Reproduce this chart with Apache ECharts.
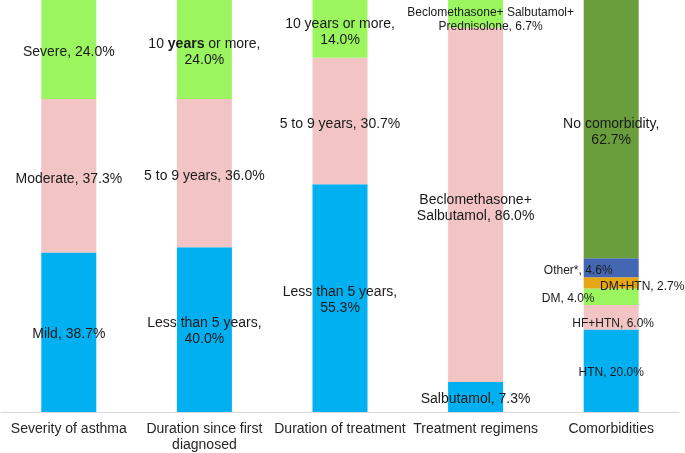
<!DOCTYPE html>
<html>
<head>
<meta charset="utf-8">
<script src="https://cdn.jsdelivr.net/npm/echarts@6/dist/echarts.min.js"></script>
<style>
html,body{margin:0;padding:0;background:#fff;}
#chart{width:685px;height:453px;}
</style>
</head>
<body>
<div id="chart"></div>
<script>
const categories = ['Severity of asthma', 'Duration since first\ndiagnosed', 'Duration of treatment', 'Treatment regimens', 'Comorbidities'];

// segments per category, bottom to top
const severityNames = ['Mild, ', 'Moderate, ', 'Severe, '];
const severityValues = [38.7, 37.3, 24.0];

const diagnosedNames = ['Less than 5 years,\n', '5 to 9 years, ', '10 {b|years} or more,\n'];
const diagnosedValues = [40.0, 36.0, 24.0];

const treatmentNames = ['Less than 5 years,\n', '5 to 9 years, ', '10 years or more,\n'];
const treatmentValues = [55.3, 30.7, 14.0];

const regimenNames = ['Salbutamol, ', 'Beclomethasone+\nSalbutamol, ', 'Beclomethasone+ Salbutamol+\nPrednisolone, '];
const regimenValues = [7.3, 86.0, 6.7];

const comorbidityNames = ['HTN, ', 'HF+HTN, ', 'DM, ', 'DM+HTN, ', 'Other*, ', 'No comorbidity,\n'];
const comorbidityValues = [20.0, 6.0, 4.0, 2.7, 4.6, 62.7];

const C = {blue:'#00B0F0', pink:'#F3C4C4', green:'#9BF55F', dgreen:'#6A9E3C', dblue:'#4467B4', orange:'#E6A514'};
const FONT = 'Liberation Sans, Arial, sans-serif';

const groups = [
  {names: severityNames, values: severityValues, colors: [C.blue, C.pink, C.green], offsets: [[0,2],[0,3],[0,3]], sizes: [14,14,14]},
  {names: diagnosedNames, values: diagnosedValues, colors: [C.blue, C.pink, C.green], offsets: [[0,2],[0,3],[0,3]], sizes: [14,14,14]},
  {names: treatmentNames, values: treatmentValues, colors: [C.blue, C.pink, C.green], offsets: [[0,2],[0,3],[0,3]], sizes: [14,14,14]},
  {names: regimenNames, values: regimenValues, colors: [C.blue, C.pink, C.green], offsets: [[0,2],[0,3],[15,6]], sizes: [14,14,12]},
  {names: comorbidityNames, values: comorbidityValues, colors: [C.blue, C.pink, C.green, C.orange, C.dblue, C.dgreen],
   offsets: [[0,2],[2,6],[-43,2],[31,4],[-33,3],[0,3]], sizes: [12,12,12,12,12,14]}
];

const series = [];
groups.forEach((g, gi) => {
  g.values.forEach((v, si) => {
    const data = categories.map((c, ci) => ci === gi ? v : '-');
    const text = g.names[si] + v.toFixed(1) + '%';
    const fs = g.sizes[si];
    series.push({
      type: 'bar',
      stack: 'total',
      barWidth: 55,
      data: data,
      itemStyle: {color: g.colors[si]},
      label: {
        show: true,
        position: 'inside',
        offset: g.offsets[si],
        formatter: () => text,
        color: '#1a1a1a',
        fontFamily: FONT,
        fontSize: fs,
        lineHeight: fs + 2,
        align: 'center',
        rich: {b: {fontWeight: 'bold', fontSize: fs, color: '#1a1a1a', fontFamily: FONT}}
      },
      emphasis: {disabled: true},
      animation: false
    });
  });
});

const chart = echarts.init(document.getElementById('chart'));
chart.setOption({
  animation: false,
  grid: {left: 1, right: 6, top: 0, bottom: 40, containLabel: false},
  xAxis: {
    type: 'category',
    data: categories,
    axisLine: {lineStyle: {color: '#D9D9D9', width: 1}},
    axisTick: {show: false},
    axisLabel: {color: '#262626', fontSize: 14, lineHeight: 16, margin: 9, interval: 0, fontFamily: FONT}
  },
  yAxis: {type: 'value', min: 0, max: 100, show: false},
  series: series
});
</script>
</body>
</html>
